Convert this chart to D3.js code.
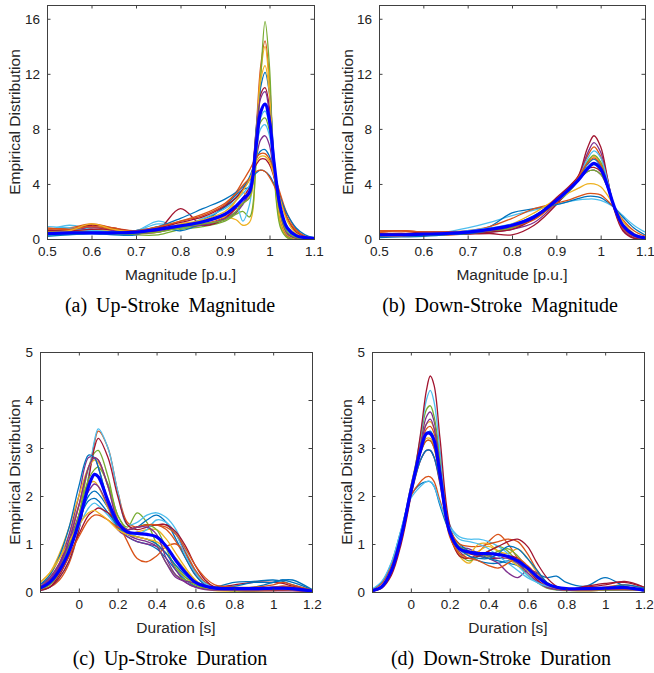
<!DOCTYPE html>
<html>
<head>
<meta charset="utf-8">
<script src="https://cdn.jsdelivr.net/npm/d3@7"></script>
<style>
  body { margin: 0; background: #fff; }
  svg { display: block; }
  .tick-label { font-family: "Liberation Sans", Arial, sans-serif; font-size: 13.5px; fill: #222; }
  .axis-label { font-family: "Liberation Sans", Arial, sans-serif; font-size: 15.5px; fill: #262626; }
  .caption { font-family: "Liberation Serif", "Times New Roman", serif; font-size: 20px; fill: #000; }
</style>
</head>
<body>
<div id="chart"></div>
<script>
const width = 654, height = 673;

// MATLAB default line colour order
const lineColors = ["#0072BD", "#D95319", "#EDB120", "#7E2F8E", "#77AC30", "#4DBEEE", "#A2142F"];
const meanColor = "#0000FF";

// ---- (a) Up-Stroke Magnitude ----
const magGridUp = [0.5, 0.55, 0.6, 0.65, 0.7, 0.75, 0.8, 0.85, 0.9, 0.925, 0.94, 0.955, 0.97, 0.98, 0.99, 1.0, 1.01, 1.025, 1.04, 1.06, 1.08, 1.1];
const upMagCurves = [
  [0.3,0.35,0.4,0.35,0.4,0.6,0.9,1.4,2.3,3.0,3.6,4.5,5.8,6.4,6.5,6.0,4.9,3.0,1.5,0.5,0.15,0.05],
  [0.5,0.6,0.9,0.6,0.4,0.6,1.0,1.1,1.6,2.2,2.6,3.0,8.0,12.5,14.4,11.5,5.5,1.2,0.2,0,0,0],
  [0.4,0.5,1.0,0.7,0.5,0.7,0.9,1.2,1.6,1.4,1.0,1.2,6.5,12.0,14.0,11.0,5.0,1.0,0.1,0,0,0],
  [0.5,0.55,0.8,0.7,0.5,0.6,0.8,1.0,1.4,1.9,2.5,3.3,5.8,7.2,7.5,6.8,4.6,1.8,0.5,0.1,0,0],
  [0.6,0.5,0.6,0.5,0.3,0.3,0.7,0.9,1.3,1.8,2.0,1.6,5.5,11.5,15.8,12.5,5.0,0.8,0.1,0,0,0],
  [0.6,1.0,0.7,0.6,0.6,1.3,0.8,1.2,1.8,2.4,1.3,2.5,6.5,8.8,9.3,8.2,5.5,2.0,0.6,0.15,0.05,0],
  [0.6,0.7,1.0,0.8,0.5,0.7,2.2,1.0,1.5,2.3,3.0,3.8,7.8,10.5,11.0,9.5,5.8,1.6,0.3,0.05,0,0],
  [0.2,0.3,0.4,0.3,0.3,0.9,0.6,1.2,2.4,3.2,3.6,3.8,8.0,11.0,12.1,10.5,6.0,1.5,0.3,0.05,0,0],
  [0.7,0.8,1.1,0.8,0.6,0.8,1.3,1.7,2.5,3.4,4.2,5.0,5.9,6.2,6.2,5.8,4.8,3.2,1.8,0.7,0.2,0.05],
  [0.5,0.6,0.7,0.6,0.4,0.5,1.1,1.3,1.7,2.8,3.4,3.0,7.5,11.5,12.6,10.5,5.5,1.4,0.3,0,0,0],
  [0.4,0.5,0.9,0.6,0.4,0.5,0.9,1.0,1.5,2.0,2.6,3.5,7.6,10.2,10.7,9.0,5.5,1.8,0.4,0.05,0,0],
  [0.5,0.6,0.5,0.4,0.4,0.5,0.8,1.1,1.4,2.0,2.6,3.0,6.8,8.5,8.8,7.8,5.0,1.8,0.5,0.1,0,0],
  [0.9,0.8,0.6,0.5,0.6,1.1,0.9,1.5,2.2,2.8,3.3,3.9,6.5,8.0,8.3,7.5,5.3,2.3,0.8,0.2,0.05,0],
  [0.6,0.6,0.7,0.7,0.6,0.8,1.2,1.6,2.4,3.0,3.6,4.3,5.4,5.8,5.8,5.4,4.5,2.9,1.5,0.5,0.15,0.05],
  [0.3,0.4,0.5,0.5,0.6,0.9,1.5,2.2,2.9,3.4,3.8,4.3,4.8,5.0,4.9,4.6,4.0,2.9,1.8,0.8,0.3,0.1],
  [0.8,0.7,0.9,0.7,0.6,0.9,1.3,1.8,2.6,3.3,3.9,4.4,4.9,5.0,4.9,4.5,3.9,2.7,1.5,0.6,0.2,0.05],
  [0.5,0.6,1.1,0.7,0.5,0.7,1.0,1.4,2.0,2.8,3.5,4.3,5.6,6.0,6.0,5.6,4.6,2.8,1.3,0.4,0.1,0]
];
const upMagMean = [0.4,0.45,0.45,0.45,0.5,0.7,0.95,1.25,1.8,2.4,2.9,3.4,6.8,9.2,9.8,8.6,5.6,2.2,0.8,0.25,0.1,0.05];

// ---- (b) Down-Stroke Magnitude ----
const magGridDown = [0.5, 0.55, 0.6, 0.65, 0.7, 0.75, 0.8, 0.85, 0.9, 0.925, 0.95, 0.97, 0.985, 1.0, 1.015, 1.03, 1.05, 1.075, 1.1];
const downMagCurves = [
  [0.2,0.2,0.3,0.35,0.45,0.7,1.0,1.7,2.8,3.5,4.4,5.4,5.8,5.3,4.0,2.4,1.0,0.3,0.1],
  [0.5,0.6,0.5,0.45,0.5,0.6,0.9,1.5,2.8,3.6,4.6,6.0,6.7,6.0,4.3,2.3,0.8,0.2,0.05],
  [0.3,0.3,0.3,0.3,0.4,0.5,0.8,1.6,2.9,3.6,4.5,5.6,6.0,5.5,4.1,2.4,0.9,0.25,0.05],
  [0.3,0.3,0.4,0.4,0.4,0.5,0.7,1.2,2.6,3.4,4.5,6.2,7.0,6.3,4.4,2.3,0.7,0.1,0],
  [0.3,0.35,0.4,0.4,0.45,0.6,0.9,1.5,2.6,3.3,4.3,5.6,6.1,5.6,4.2,2.4,0.9,0.25,0.05],
  [0.2,0.25,0.35,0.5,0.8,1.2,1.7,2.1,2.5,2.7,2.85,2.9,2.9,2.8,2.6,2.3,1.7,1.0,0.5],
  [0.4,0.4,0.3,0.3,0.35,0.4,0.3,1.0,2.5,3.5,4.6,6.6,7.5,6.7,4.5,2.2,0.6,0.05,0],
  [0.1,0.15,0.2,0.3,0.5,0.9,1.9,2.2,2.5,2.7,2.95,3.1,3.1,3.0,2.7,2.3,1.6,0.8,0.3],
  [0.6,0.6,0.5,0.5,0.6,0.9,1.5,2.2,2.6,2.8,3.1,3.3,3.3,3.2,2.8,2.3,1.4,0.6,0.2],
  [0.2,0.2,0.3,0.4,0.5,0.7,1.1,1.9,2.9,3.3,3.7,4.0,4.0,3.8,3.2,2.4,1.3,0.4,0.1],
  [0.3,0.3,0.4,0.5,0.5,0.7,1.0,1.6,2.9,3.6,4.3,4.9,5.0,4.7,3.8,2.4,1.0,0.3,0.05],
  [0.2,0.3,0.3,0.35,0.4,0.55,0.8,1.5,2.8,3.5,4.3,4.9,5.0,4.7,3.8,2.4,1.0,0.3,0.05],
  [0.3,0.3,0.35,0.4,0.6,0.8,1.1,1.6,2.7,3.4,4.4,5.8,6.4,5.9,4.3,2.4,0.9,0.2,0.05],
  [0.4,0.4,0.5,0.5,0.4,0.5,0.7,1.5,3.0,3.7,4.5,5.1,5.2,4.9,3.8,2.3,0.9,0.2,0.05],
  [0.3,0.3,0.3,0.35,0.4,0.6,0.9,1.6,2.8,3.5,4.4,5.2,5.4,5.0,3.9,2.4,1.0,0.3,0.05],
  [0.5,0.6,0.5,0.5,0.5,0.6,0.9,1.4,2.7,3.5,4.5,5.5,5.9,5.4,4.0,2.3,0.8,0.2,0.05]
];
const downMagMean = [0.3,0.3,0.35,0.4,0.5,0.7,1.0,1.6,2.8,3.5,4.3,5.1,5.5,5.1,3.9,2.4,1.0,0.3,0.08];

// ---- (c) Up-Stroke Duration ----
const durGridUp = [-0.2, -0.15, -0.1, -0.05, 0, 0.05, 0.08, 0.1, 0.15, 0.2, 0.25, 0.3, 0.35, 0.4, 0.45, 0.5, 0.55, 0.6, 0.65, 0.7, 0.8, 0.9, 1.0, 1.05, 1.1, 1.2];
const upDurCurves = [
  [0.1,0.25,0.5,0.95,1.5,2.0,2.1,2.05,1.75,1.35,1.15,1.05,1.0,0.9,0.7,0.45,0.25,0.12,0.08,0.1,0.2,0.22,0.25,0.22,0.15,0.03],
  [0.05,0.1,0.25,0.6,1.3,2.4,3.1,3.35,3.0,2.1,1.45,1.35,1.4,1.4,1.3,1.05,0.7,0.35,0.15,0.06,0.03,0.05,0.1,0.12,0.1,0.03],
  [0.15,0.35,0.7,1.2,1.8,2.25,2.3,2.2,1.75,1.35,1.2,1.15,1.1,1.0,0.8,0.55,0.3,0.15,0.06,0.03,0.02,0.02,0.03,0.04,0.04,0.02],
  [0.1,0.3,0.6,1.2,2.0,2.8,2.8,2.6,1.85,1.3,1.15,1.05,1.0,0.95,0.8,0.45,0.2,0.1,0.06,0.05,0.05,0.05,0.05,0.05,0.05,0.02],
  [0.05,0.15,0.4,0.9,1.6,2.6,2.9,2.95,2.4,1.6,1.35,1.65,1.45,1.0,0.6,0.35,0.25,0.15,0.08,0.05,0.03,0.03,0.05,0.06,0.05,0.02],
  [0.03,0.1,0.3,0.65,1.3,2.4,3.15,3.4,3.0,2.1,1.4,1.45,1.6,1.65,1.55,1.3,0.85,0.45,0.2,0.1,0.05,0.05,0.06,0.06,0.05,0.02],
  [0.05,0.1,0.3,0.65,1.3,2.35,3.0,3.2,2.8,2.0,1.4,1.3,1.35,1.4,1.4,1.2,0.8,0.4,0.2,0.1,0.15,0.2,0.2,0.18,0.12,0.04],
  [0.1,0.25,0.55,1.0,1.5,1.9,1.95,1.9,1.65,1.4,1.3,1.35,1.5,1.6,1.45,1.1,0.7,0.35,0.15,0.1,0.12,0.2,0.2,0.25,0.2,0.05],
  [0.1,0.25,0.55,1.05,1.8,2.6,2.8,2.75,2.2,1.5,1.05,0.7,0.63,0.75,0.95,1.0,0.8,0.45,0.2,0.1,0.05,0.06,0.1,0.12,0.1,0.03],
  [0.2,0.4,0.8,1.35,2.0,2.6,2.75,2.7,2.2,1.5,1.2,1.25,1.3,1.3,1.1,0.8,0.5,0.25,0.1,0.05,0.04,0.05,0.06,0.06,0.05,0.02],
  [0.15,0.3,0.6,1.05,1.6,2.1,2.25,2.2,1.8,1.4,1.2,1.1,1.05,0.95,0.6,0.3,0.22,0.2,0.15,0.08,0.04,0.03,0.03,0.03,0.03,0.01],
  [0.05,0.15,0.45,0.95,1.6,2.35,2.55,2.6,2.25,1.6,1.3,1.35,1.4,1.3,0.9,0.5,0.3,0.2,0.1,0.05,0.03,0.03,0.04,0.04,0.04,0.02],
  [0.05,0.2,0.45,0.85,1.35,1.75,1.85,1.8,1.6,1.35,1.2,1.2,1.3,1.5,1.45,1.2,0.75,0.4,0.18,0.1,0.07,0.07,0.08,0.08,0.06,0.02],
  [0.03,0.1,0.35,0.75,1.2,1.6,1.7,1.75,1.65,1.45,1.3,1.35,1.4,1.4,1.4,1.25,0.95,0.55,0.25,0.1,0.04,0.03,0.03,0.03,0.03,0.01],
  [0.15,0.35,0.75,1.35,2.2,2.85,2.8,2.6,1.9,1.35,1.2,1.15,1.1,1.0,0.8,0.55,0.35,0.2,0.12,0.08,0.07,0.1,0.2,0.25,0.25,0.05],
  [0.05,0.2,0.4,0.75,1.15,1.5,1.6,1.6,1.5,1.35,1.3,1.35,1.4,1.4,1.35,1.2,0.9,0.55,0.3,0.15,0.1,0.1,0.15,0.2,0.15,0.04],
  [0.2,0.4,0.7,1.05,1.4,1.65,1.7,1.65,1.5,1.3,1.2,1.15,1.1,1.05,0.9,0.7,0.45,0.25,0.1,0.05,0.04,0.04,0.05,0.05,0.04,0.02],
  [0.1,0.25,0.55,1.1,1.8,2.6,2.8,2.75,2.2,1.5,1.3,1.35,1.35,1.2,0.7,0.35,0.2,0.1,0.05,0.04,0.04,0.04,0.05,0.05,0.04,0.02]
];
const upDurMean = [0.08,0.2,0.45,0.85,1.45,2.2,2.45,2.4,1.9,1.45,1.25,1.22,1.2,1.15,0.95,0.65,0.4,0.2,0.12,0.08,0.07,0.07,0.08,0.08,0.07,0.02];

// ---- (d) Down-Stroke Duration ----
const durGridDown = [-0.2, -0.15, -0.1, -0.05, 0, 0.05, 0.08, 0.1, 0.12, 0.15, 0.2, 0.25, 0.3, 0.35, 0.4, 0.45, 0.5, 0.55, 0.6, 0.65, 0.7, 0.75, 0.8, 0.9, 1.0, 1.1, 1.2];
const downDurCurves = [
  [0.03,0.12,0.45,1.2,2.2,3.0,3.3,3.35,3.2,2.5,1.3,0.9,0.75,0.65,0.6,0.6,0.65,0.6,0.45,0.38,0.3,0.33,0.2,0.12,0.3,0.12,0.04],
  [0.02,0.1,0.4,1.1,2.1,3.0,3.4,3.45,3.3,2.6,1.3,0.9,0.8,0.85,1.05,1.2,1.0,0.7,0.45,0.25,0.12,0.07,0.05,0.05,0.1,0.15,0.08],
  [0.03,0.12,0.45,1.2,2.2,3.1,3.5,3.55,3.4,2.6,1.2,0.75,0.6,0.85,0.95,0.85,0.8,0.9,0.7,0.4,0.15,0.07,0.04,0.03,0.04,0.05,0.03],
  [0.02,0.1,0.4,1.1,2.1,3.1,3.65,3.75,3.55,2.7,1.3,0.95,0.9,0.8,0.7,0.6,0.4,0.3,0.45,0.4,0.2,0.08,0.04,0.03,0.04,0.05,0.03],
  [0.02,0.1,0.4,1.1,2.1,3.2,3.8,3.88,3.65,2.8,1.3,0.8,0.65,0.75,0.85,0.95,0.85,0.6,0.35,0.2,0.08,0.04,0.03,0.03,0.04,0.05,0.03],
  [0.02,0.1,0.4,1.05,2.1,3.25,4.0,4.2,3.95,2.95,1.4,1.15,1.1,1.1,1.05,0.95,0.8,0.55,0.35,0.2,0.1,0.05,0.04,0.04,0.05,0.05,0.03],
  [0.02,0.08,0.35,1.0,2.0,3.3,4.2,4.5,4.3,3.2,1.4,0.9,0.8,0.75,0.7,0.7,0.75,0.7,0.5,0.25,0.1,0.06,0.05,0.1,0.15,0.22,0.1],
  [0.05,0.2,0.6,1.3,2.0,2.25,2.3,2.3,2.2,1.8,1.25,1.0,0.85,0.75,0.7,0.65,0.6,0.55,0.45,0.3,0.18,0.1,0.06,0.05,0.05,0.05,0.03],
  [0.04,0.18,0.55,1.25,2.0,2.3,2.4,2.4,2.3,1.9,1.3,1.0,0.95,0.95,1.0,1.05,1.1,1.05,0.8,0.45,0.2,0.1,0.07,0.05,0.06,0.1,0.05],
  [0.03,0.12,0.45,1.15,2.1,2.95,3.2,3.2,3.05,2.4,1.2,0.8,0.8,1.0,1.0,0.85,0.7,0.55,0.45,0.3,0.15,0.07,0.04,0.03,0.04,0.05,0.03],
  [0.02,0.1,0.4,1.1,2.1,3.05,3.5,3.6,3.4,2.6,1.25,0.85,0.7,0.8,0.75,0.7,0.7,0.6,0.4,0.22,0.1,0.05,0.04,0.04,0.05,0.05,0.03],
  [0.03,0.12,0.45,1.15,2.1,2.9,3.15,3.15,3.0,2.4,1.25,0.95,0.85,0.8,0.75,0.85,0.9,0.75,0.5,0.3,0.15,0.08,0.05,0.04,0.04,0.05,0.03],
  [0.06,0.22,0.62,1.3,1.95,2.2,2.3,2.3,2.2,1.85,1.35,1.1,1.05,1.0,0.9,0.75,0.6,0.45,0.3,0.2,0.12,0.08,0.05,0.05,0.05,0.05,0.03],
  [0.02,0.1,0.4,1.1,2.0,2.75,2.95,2.95,2.8,2.25,1.2,0.75,0.7,0.75,0.85,0.95,1.05,1.1,0.95,0.6,0.3,0.12,0.05,0.12,0.18,0.2,0.1],
  [0.03,0.12,0.45,1.15,2.05,2.75,2.95,2.95,2.8,2.3,1.3,0.9,0.75,0.7,0.7,0.8,0.95,0.9,0.7,0.45,0.2,0.1,0.05,0.05,0.08,0.15,0.08],
  [0.03,0.12,0.45,1.15,2.1,2.9,3.15,3.15,3.0,2.35,1.15,0.8,0.7,0.65,0.55,0.5,0.6,0.7,0.55,0.35,0.15,0.07,0.04,0.04,0.05,0.05,0.03]
];
const downDurMean = [0.03,0.11,0.45,1.15,2.1,2.95,3.3,3.3,3.15,2.45,1.25,0.9,0.83,0.8,0.8,0.78,0.74,0.65,0.5,0.32,0.17,0.1,0.07,0.07,0.08,0.09,0.04];

// tick values and labels
const magXTicks = [0.5, 0.6, 0.7, 0.8, 0.9, 1, 1.1];
const magYTicks = [0, 4, 8, 12, 16];
const durXTicks = [0, 0.2, 0.4, 0.6, 0.8, 1, 1.2];
const durYTicks = [0, 1, 2, 3, 4, 5];
const yLabel = "Empirical Distribution";

const svg = d3.select("#chart").append("svg")
    .attr("width", width)
    .attr("height", height)
    .attr("viewBox", [0, 0, width, height]);

const drawPanel = (p, idx) => {
    const innerWidth = p.right - p.left;
    const innerHeight = p.bottom - p.top;

    const xScale = d3.scaleLinear().domain(p.xDomain).range([0, innerWidth]);
    const yScale = d3.scaleLinear().domain(p.yDomain).range([innerHeight, 0]);

    const g = svg.append("g")
        .attr("transform", `translate(${p.left}, ${p.top})`);

    g.append("clipPath")
        .attr("id", `clip-${idx}`)
        .append("rect")
            .attr("width", innerWidth)
            .attr("height", innerHeight);

    const lineGenerator = d3.line()
        .x(d => xScale(d[0]))
        .y(d => yScale(d[1]))
        .curve(d3.curveCatmullRom.alpha(0.5));

    const toPoints = ys => p.grid.map((x, i) => [x, ys[i]]);

    const plot = g.append("g").attr("clip-path", `url(#clip-${idx})`);

    plot.selectAll(".kde")
        .data(p.curves)
        .join("path")
            .attr("class", "kde")
            .attr("d", d => lineGenerator(toPoints(d)))
            .attr("fill", "none")
            .attr("stroke", (d, i) => lineColors[i % lineColors.length])
            .attr("stroke-width", 1.3);

    plot.append("path")
        .attr("d", lineGenerator(toPoints(p.mean)))
        .attr("fill", "none")
        .attr("stroke", meanColor)
        .attr("stroke-width", 3.2);

    // MATLAB style box with inward ticks on all four sides
    const tickLen = 3.5;
    const axisColor = "#404040";
    const fmt = d => String(d);

    g.append("g").attr("transform", `translate(0, ${innerHeight})`)
        .call(d3.axisBottom(xScale).tickValues(p.xTicks).tickSize(-tickLen).tickPadding(7).tickFormat(fmt))
        .call(a => a.select(".domain").remove())
        .call(a => a.selectAll("line").attr("stroke", axisColor))
        .call(a => a.selectAll("text").attr("class", "tick-label").attr("font-family", null).attr("font-size", null).attr("fill", null));

    g.append("g")
        .call(d3.axisTop(xScale).tickValues(p.xTicks).tickSize(-tickLen).tickFormat(""))
        .call(a => a.select(".domain").remove())
        .call(a => a.selectAll("line").attr("stroke", axisColor));

    g.append("g")
        .call(d3.axisLeft(yScale).tickValues(p.yTicks).tickSize(-tickLen).tickPadding(7).tickFormat(fmt))
        .call(a => a.select(".domain").remove())
        .call(a => a.selectAll("line").attr("stroke", axisColor))
        .call(a => a.selectAll("text").attr("class", "tick-label").attr("font-family", null).attr("font-size", null).attr("fill", null));

    g.append("g").attr("transform", `translate(${innerWidth}, 0)`)
        .call(d3.axisRight(yScale).tickValues(p.yTicks).tickSize(-tickLen).tickFormat(""))
        .call(a => a.select(".domain").remove())
        .call(a => a.selectAll("line").attr("stroke", axisColor));

    g.append("rect")
        .attr("x", 0.5).attr("y", 0.5)
        .attr("width", innerWidth).attr("height", innerHeight)
        .attr("fill", "none")
        .attr("stroke", axisColor)
        .attr("stroke-width", 1);

    g.append("text")
        .attr("class", "axis-label")
        .attr("x", innerWidth / 2)
        .attr("y", innerHeight + 41)
        .attr("text-anchor", "middle")
        .text(p.xLabel);

    g.append("text")
        .attr("class", "axis-label")
        .attr("transform", `translate(${-p.yLabelOffset}, ${innerHeight / 2}) rotate(-90)`)
        .attr("text-anchor", "middle")
        .attr("dy", "0.35em")
        .text(yLabel);

    svg.append("text")
        .attr("class", "caption")
        .attr("x", p.captionX)
        .attr("y", p.bottom + 73)
        .attr("text-anchor", "middle")
        .attr("word-spacing", 4)
        .text(p.caption);
};

const panels = [
    { left: 47, right: 314, top: 5, bottom: 239, xDomain: [0.5, 1.1], yDomain: [0, 17],
      grid: magGridUp, curves: upMagCurves, mean: upMagMean, xTicks: magXTicks, yTicks: magYTicks,
      xLabel: "Magnitude [p.u.]", yLabelOffset: 32, caption: "(a) Up-Stroke Magnitude", captionX: 170 },
    { left: 379, right: 645, top: 5, bottom: 239, xDomain: [0.5, 1.1], yDomain: [0, 17],
      grid: magGridDown, curves: downMagCurves, mean: downMagMean, xTicks: magXTicks, yTicks: magYTicks,
      xLabel: "Magnitude [p.u.]", yLabelOffset: 31, caption: "(b) Down-Stroke Magnitude", captionX: 500 },
    { left: 40, right: 312, top: 352, bottom: 592, xDomain: [-0.2, 1.2], yDomain: [0, 5],
      grid: durGridUp, curves: upDurCurves, mean: upDurMean, xTicks: durXTicks, yTicks: durYTicks,
      xLabel: "Duration [s]", yLabelOffset: 25, caption: "(c) Up-Stroke Duration", captionX: 170 },
    { left: 372, right: 644, top: 352, bottom: 592, xDomain: [-0.2, 1.2], yDomain: [0, 5],
      grid: durGridDown, curves: downDurCurves, mean: downDurMean, xTicks: durXTicks, yTicks: durYTicks,
      xLabel: "Duration [s]", yLabelOffset: 25, caption: "(d) Down-Stroke Duration", captionX: 501 }
];

panels.forEach(drawPanel);
</script>
</body>
</html>
